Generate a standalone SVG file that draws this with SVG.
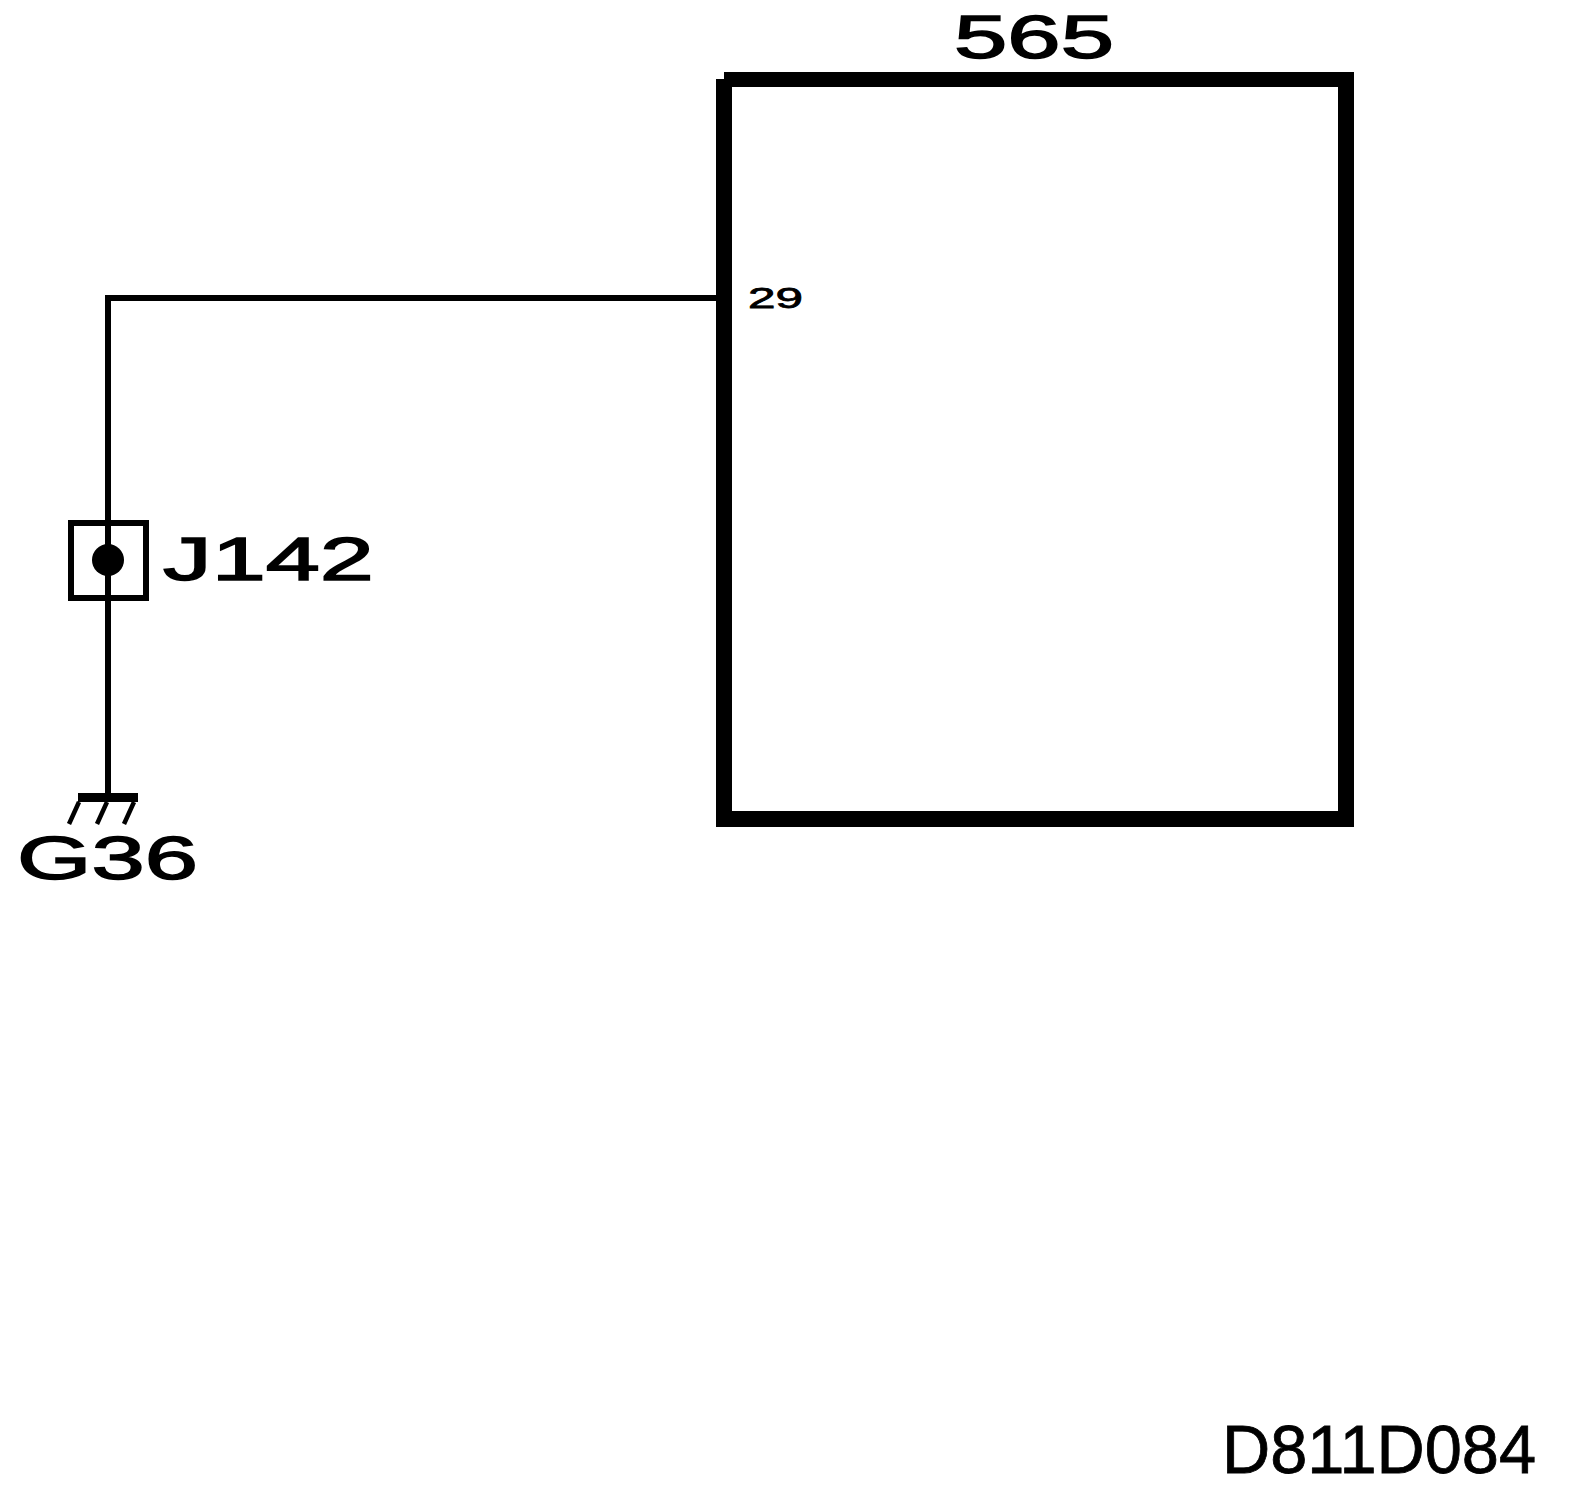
<svg xmlns="http://www.w3.org/2000/svg" width="1584" height="1494" viewBox="0 0 1584 1494">
<style>
text{font-family:"Liberation Sans",Arial,sans-serif;fill:#000;stroke:#000}
.w{fill:none;stroke:#000;stroke-width:6}
.t{fill:none;stroke:#000;stroke-width:4.5}
.big{stroke-width:1.5}
</style>
<rect width="1584" height="1494" fill="#fff"/>
<g id="connectors">
<path class="w" d="M716 298H108V793"/>
</g>
<g id="node-565">
<path d="M724 72H1354V827H716V79H724ZM732 87V811H1338V87Z" fill="#000" fill-rule="evenodd"/>
<text class="big" x="954" y="58" font-size="62" textLength="160" lengthAdjust="spacingAndGlyphs">565</text>
<text x="748" y="308" font-size="30" stroke-width="0.8" textLength="55" lengthAdjust="spacingAndGlyphs">29</text>
</g>
<g id="node-J142">
<rect x="71" y="523" width="75" height="75" fill="none" stroke="#000" stroke-width="6"/>
<circle cx="108" cy="560" r="16" fill="#000"/>
<path class="w" d="M108 500V620"/>
<text class="big" x="163" y="580" font-size="62" textLength="211" lengthAdjust="spacingAndGlyphs">J142</text>
</g>
<g id="node-G36">
<rect x="78" y="793" width="60" height="9" fill="#000"/>
<path class="t" d="M79 802L69 824M107 802L97 824M134 802L124 824"/>
<text class="big" x="17" y="879" font-size="62" textLength="181" lengthAdjust="spacingAndGlyphs">G36</text>
</g>
<g id="label-D811D084">
<text x="1222" y="1473" font-size="68" stroke-width="0.8" textLength="314" lengthAdjust="spacingAndGlyphs">D811D084</text>
</g>
</svg>
